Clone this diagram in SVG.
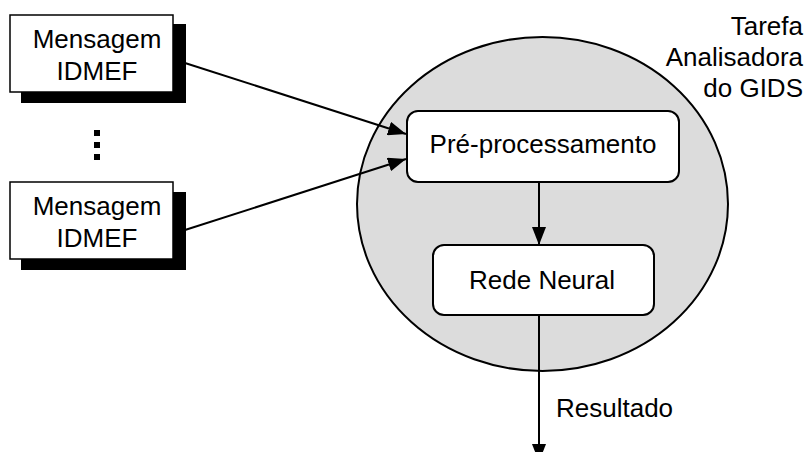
<svg xmlns="http://www.w3.org/2000/svg" width="808" height="452" viewBox="0 0 808 452">
  <defs>
    <marker id="arrow" markerWidth="18" markerHeight="14" refX="18" refY="7" orient="auto" markerUnits="userSpaceOnUse">
      <path d="M0,0 L18,7 L0,14 Z" fill="#000"/>
    </marker>
    <style>
      text { font-family: "Liberation Sans", Arial, sans-serif; font-size: 26px; fill: #000; }
      .msg { fill: #fff; stroke: #000; stroke-width: 1.5; }
      .shadow { fill: #000; }
      .step { fill: #fff; stroke: #000; stroke-width: 2; }
      .edge { fill: none; stroke: #000; stroke-width: 2; marker-end: url(#arrow); }
      .mid { text-anchor: middle; }
    </style>
  </defs>
  <rect width="808" height="452" fill="#fff"/>

  <!-- analyser task region -->
  <g id="tarefa">
    <ellipse cx="542.5" cy="204" rx="185.5" ry="167" fill="#dcdcdc" stroke="#000" stroke-width="2"/>
    <text x="803" y="35" text-anchor="end">Tarefa</text>
    <text x="803" y="66" text-anchor="end">Analisadora</text>
    <text x="803" y="97" text-anchor="end">do GIDS</text>
  </g>

  <g id="msg1">
    <rect class="shadow" x="21" y="24" width="165" height="79"/>
    <rect class="msg" x="10" y="15" width="163" height="77"/>
    <text class="mid" x="97" y="48">Mensagem</text>
    <text class="mid" x="97" y="80">IDMEF</text>
  </g>

  <g id="ellipsis">
    <rect x="94" y="130" width="6" height="6"/>
    <rect x="94" y="142" width="6" height="6"/>
    <rect x="94" y="154" width="6" height="6"/>
  </g>

  <g id="msg2">
    <rect class="shadow" x="21" y="192" width="165" height="78"/>
    <rect class="msg" x="10" y="182" width="163" height="77"/>
    <text class="mid" x="97" y="215">Mensagem</text>
    <text class="mid" x="97" y="247">IDMEF</text>
  </g>

  <g id="preproc">
    <rect class="step" x="407" y="111" width="272" height="71" rx="11"/>
    <text class="mid" x="543" y="153">Pré-processamento</text>
  </g>

  <g id="rede">
    <rect class="step" x="433" y="245" width="221" height="70" rx="11"/>
    <text class="mid" x="542" y="289">Rede Neural</text>
  </g>

  <g id="connectors">
    <line class="edge" x1="185" y1="63" x2="406" y2="134"/>
    <line class="edge" x1="185" y1="230" x2="406" y2="159"/>
    <line class="edge" x1="539" y1="182" x2="539" y2="245"/>
    <line class="edge" x1="539" y1="315" x2="539" y2="462"/>
    <text x="556" y="417">Resultado</text>
  </g>
</svg>
